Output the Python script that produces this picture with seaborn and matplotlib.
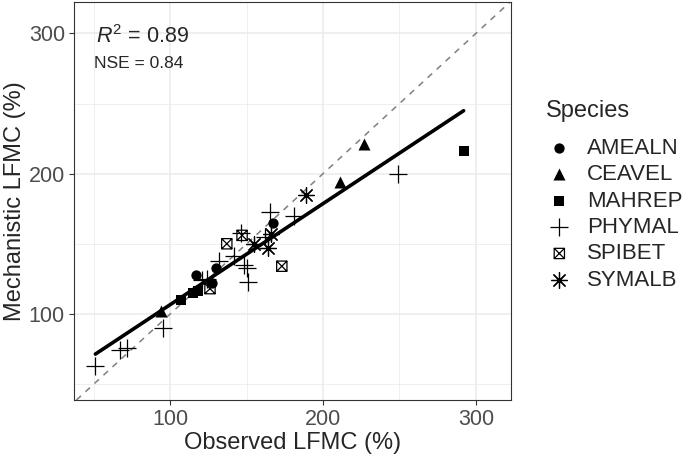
import numpy as np
import pandas as pd
import matplotlib
matplotlib.use("Agg")
import matplotlib.pyplot as plt
from matplotlib.path import Path
import seaborn as sns

# Observed vs mechanistic LFMC (%) per species
amealn_obs = [117, 130, 127, 167]
amealn_mech = [128, 133, 122, 165]
ceavel_obs = [94, 211, 227]
ceavel_mech = [102, 194, 221]
mahrep_obs = [107, 115, 118, 292]
mahrep_mech = [110, 115, 116, 216]
phymal_obs = [51, 67, 72, 95, 121, 124, 132, 142, 146, 148, 150, 151, 162, 165, 181, 249]
phymal_mech = [63, 74, 76, 90, 124, 125, 138, 141, 158, 135, 133, 123, 155, 173, 170, 200]
spibet_obs = [126, 137, 147, 173]
spibet_mech = [118, 150, 156, 134]
symalb_obs = [155, 164, 166, 189]
symalb_mech = [150, 147, 157, 185]

species = ["AMEALN", "CEAVEL", "MAHREP", "PHYMAL", "SPIBET", "SYMALB"]
r2_label = "$R^2$ = 0.89"
nse_label = "NSE = 0.84"

df = pd.concat([
    pd.DataFrame({"obs": amealn_obs, "mech": amealn_mech, "species": "AMEALN"}),
    pd.DataFrame({"obs": ceavel_obs, "mech": ceavel_mech, "species": "CEAVEL"}),
    pd.DataFrame({"obs": mahrep_obs, "mech": mahrep_mech, "species": "MAHREP"}),
    pd.DataFrame({"obs": phymal_obs, "mech": phymal_mech, "species": "PHYMAL"}),
    pd.DataFrame({"obs": spibet_obs, "mech": spibet_mech, "species": "SPIBET"}),
    pd.DataFrame({"obs": symalb_obs, "mech": symalb_mech, "species": "SYMALB"}),
], ignore_index=True)

sns.set_style("white")
plt.rcParams["font.family"] = ["Liberation Sans", "DejaVu Sans"]
plt.rcParams["mathtext.fontset"] = "custom"
plt.rcParams["mathtext.rm"] = "Liberation Sans"
plt.rcParams["mathtext.it"] = "Liberation Sans:italic"

# square with a cross inside (ggplot shape 7)
boxed_x = Path(
    [(-1, -1), (1, -1), (1, 1), (-1, 1), (-1, -1), (-1, -1), (1, 1), (-1, 1), (1, -1)],
    [Path.MOVETO, Path.LINETO, Path.LINETO, Path.LINETO, Path.CLOSEPOLY,
     Path.MOVETO, Path.LINETO, Path.MOVETO, Path.LINETO],
)

styles = {
    "AMEALN": dict(marker="o", s=55, color="black", linewidth=0),
    "CEAVEL": dict(marker="^", s=75, color="black", linewidth=0),
    "MAHREP": dict(marker="s", s=55, color="black", linewidth=0),
    "PHYMAL": dict(marker="+", s=160, color="black", linewidth=0.9),
    "SPIBET": dict(marker=boxed_x, s=55, facecolor="none", edgecolor="black", linewidth=0.9),
    "SYMALB": dict(marker=(8, 2, 0), s=130, color="black", linewidth=0.9),
}

fig = plt.figure(figsize=(6.85, 4.58), dpi=100)
ax = fig.add_axes([74 / 685, 1 - 400 / 458, (511 - 74) / 685, 398 / 458])

# grid
ax.set_xticks([100, 200, 300])
ax.set_yticks([100, 200, 300])
ax.set_xticks([50, 150, 250], minor=True)
ax.set_yticks([50, 150, 250], minor=True)
ax.grid(True, which="major", color="#EBEBEB", linewidth=1.1)
ax.grid(True, which="minor", color="#EBEBEB", linewidth=0.55)
ax.set_axisbelow(True)

# 1:1 line
ax.axline((100, 100), slope=1, color="#7F7F7F", linestyle=(0, (4, 4)), linewidth=1.1, zorder=1)

for sp in species:
    sub = df[df["species"] == sp]
    ax.scatter(sub["obs"], sub["mech"], label=sp, zorder=3, **styles[sp])

# linear fit over all points
sns.regplot(data=df, x="obs", y="mech", scatter=False, ci=None, color="black",
            line_kws={"linewidth": 2.6}, ax=ax)

ax.set_xlim(37, 323)
ax.set_ylim(38.6, 322.4)

ax.text(51.7, 293.3, r2_label, fontsize=15.5, va="baseline", ha="left")
ax.text(50.4, 275, nse_label, fontsize=12.5, va="baseline", ha="left")

ax.set_xlabel("Observed LFMC (%)", fontsize=17, labelpad=1.5)
ax.set_ylabel("Mechanistic LFMC (%)", fontsize=17, labelpad=2)
ax.tick_params(axis="both", which="major", labelsize=15.5, labelcolor="#4D4D4D",
               color="#333333", length=3.5, width=0.8, pad=3, direction="out",
               bottom=True, left=True)
ax.tick_params(axis="both", which="minor", length=0)
for sp_name, spine in ax.spines.items():
    spine.set_color("#333333")
    spine.set_linewidth(0.8)

leg = ax.legend(title="Species", loc="upper left", bbox_to_anchor=(546 / 685, 1 - 100 / 458),
                bbox_transform=fig.transFigure, frameon=False, fontsize=16,
                title_fontsize=17, alignment="left", labelspacing=0.24,
                handlelength=1.2, handletextpad=0.66, borderaxespad=0, borderpad=0,
                scatterpoints=1)
# a bit more room between the title and the first entry
leg._legend_box.sep = 11.5

fig.savefig("out.png", dpi=100)
